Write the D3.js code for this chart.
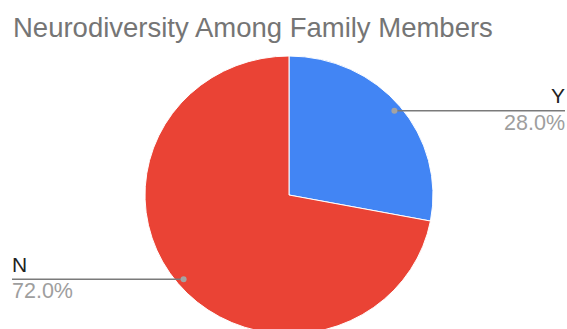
<!DOCTYPE html>
<html>
<head>
<meta charset="utf-8">
<script src="https://cdn.jsdelivr.net/npm/d3@7"></script>
<style>
  html, body { margin: 0; padding: 0; background: #fff; }
  svg { display: block; font-family: "Liberation Sans", Arial, sans-serif; }
</style>
</head>
<body>
<svg id="chart" width="567" height="329"></svg>
<script>
// Survey answers and their shares
const categories = ["Y", "N"];
const values = [28, 72];
const colors = ["#4285F4", "#EA4335"];
const title = "Neurodiversity Among Family Members";

const svg = d3.select("#chart");
const total = d3.sum(values);

svg.append("text")
  .attr("x", 13)
  .attr("y", 37)
  .attr("fill", "#757575")
  .attr("font-size", 27.5)
  .text(title);

const cx = 289, cy = 195, r = 144, yScale = 139 / 144;

const pie = d3.pie().sort(null).startAngle(0).endAngle(2 * Math.PI);
const arcs = pie(values);
const arc = d3.arc().innerRadius(0).outerRadius(r);
const dotArc = d3.arc().innerRadius(r * 0.95).outerRadius(r * 0.95);

const g = svg.append("g")
  .attr("transform", `translate(${cx},${cy}) scale(1,${yScale})`);

g.selectAll("path")
  .data(arcs)
  .join("path")
  .attr("d", arc)
  .attr("fill", (d, i) => colors[i])
  .attr("stroke", "#fff")
  .attr("stroke-width", 1);

// Leader lines, dots and labels
const labelFmt = v => (v / total * 100).toFixed(1) + "%";
arcs.forEach((d, i) => {
  const [px, py0] = dotArc.centroid(d);
  const x = cx + px, y = cy + py0 * yScale;
  const right = x > cx;
  const x2 = right ? 565 : 12;
  svg.append("line")
    .attr("x1", x).attr("y1", y)
    .attr("x2", x2).attr("y2", y)
    .attr("stroke", "#7a7a7a")
    .attr("stroke-width", 1.5);
  svg.append("circle")
    .attr("cx", x).attr("cy", y).attr("r", 3)
    .attr("fill", "#a3a3a3");
  svg.append("text")
    .attr("x", x2).attr("y", y - 7.5)
    .attr("text-anchor", right ? "end" : "start")
    .attr("font-size", 21)
    .attr("fill", "#222")
    .text(categories[i]);
  svg.append("text")
    .attr("x", x2).attr("y", y + 19)
    .attr("text-anchor", right ? "end" : "start")
    .attr("font-size", 21.5)
    .attr("fill", "#9e9e9e")
    .text(labelFmt(d.value));
});
</script>
</body>
</html>
